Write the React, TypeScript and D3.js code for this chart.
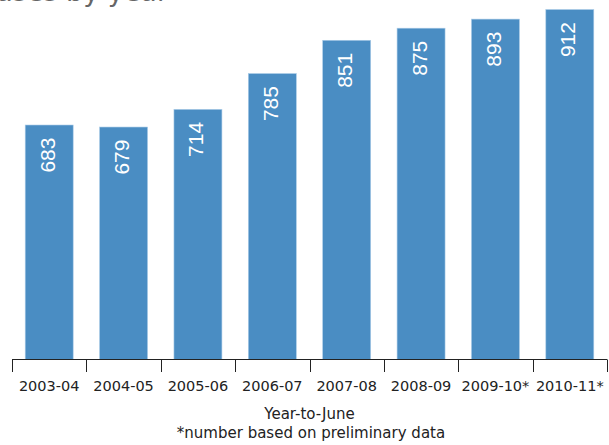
import React from "react";
import * as d3 from "d3";

const categories = ["2003-04", "2004-05", "2005-06", "2006-07", "2007-08", "2008-09", "2009-10*", "2010-11*"];
const values = [683, 679, 714, 785, 851, 875, 893, 912];
const titleText = "Cases by year";
const axisTitle = "Year-to-June";
const footnote = "*number based on preliminary data";

const W = 609;
const H = 445;
const FONT = "'DejaVu Sans', sans-serif";

export default function App() {
  const x = d3.scaleBand<string>().domain(categories).range([12, 607]).paddingInner(0).paddingOuter(0);
  const y = d3.scaleLinear().domain([218, 920]).range([359.5, 5.5]);
  const bw = x.bandwidth();
  const barW = bw * 0.645;
  const baseY = y(218);
  const boundaries = categories.map((c) => x(c) as number).concat([(x(categories[categories.length - 1]) as number) + bw]);

  return (
    <svg width={W} height={H} style={{ position: "absolute", left: 0, top: 0, background: "#fff" }}>
      <text x={168} y={0.5} textAnchor="end" fontFamily={FONT} fontSize={27} fill="#666">
        {titleText}
      </text>
      {categories.map((c, i) => {
        const cx = (x(c) as number) + bw / 2;
        const top = y(values[i]);
        return (
          <g key={c}>
            <rect
              x={cx - barW / 2}
              y={top}
              width={barW}
              height={baseY - top}
              fill="#4a8dc3"
              stroke="#a9cbe7"
              strokeWidth={0.6}
            />
            <text
              transform={`translate(${cx + 5.5},${top + 12.5}) rotate(-90)`}
              textAnchor="end"
              fontFamily="'Liberation Sans', Arial, sans-serif"
              fontSize={21}
              fill="#fff"
            >
              {values[i]}
            </text>
          </g>
        );
      })}
      <line x1={boundaries[0]} x2={boundaries[boundaries.length - 1]} y1={baseY} y2={baseY} stroke="#222" strokeWidth={1} />
      {boundaries.map((b, i) => (
        <line key={i} x1={Math.round(b) + 0.5} x2={Math.round(b) + 0.5} y1={baseY} y2={baseY + 12.5} stroke="#222" strokeWidth={1} />
      ))}
      {categories.map((c) => (
        <text
          key={c}
          x={(x(c) as number) + bw / 2}
          y={390.7}
          textAnchor="middle"
          fontFamily={FONT}
          fontSize={14.5}
          fill="#222"
        >
          {c}
        </text>
      ))}
      <text x={309.5} y={418.5} textAnchor="middle" fontFamily={FONT} fontSize={15} fill="#222">
        {axisTitle}
      </text>
      <text x={311} y={437.5} textAnchor="middle" fontFamily={FONT} fontSize={15} fill="#222">
        {footnote}
      </text>
    </svg>
  );
}
